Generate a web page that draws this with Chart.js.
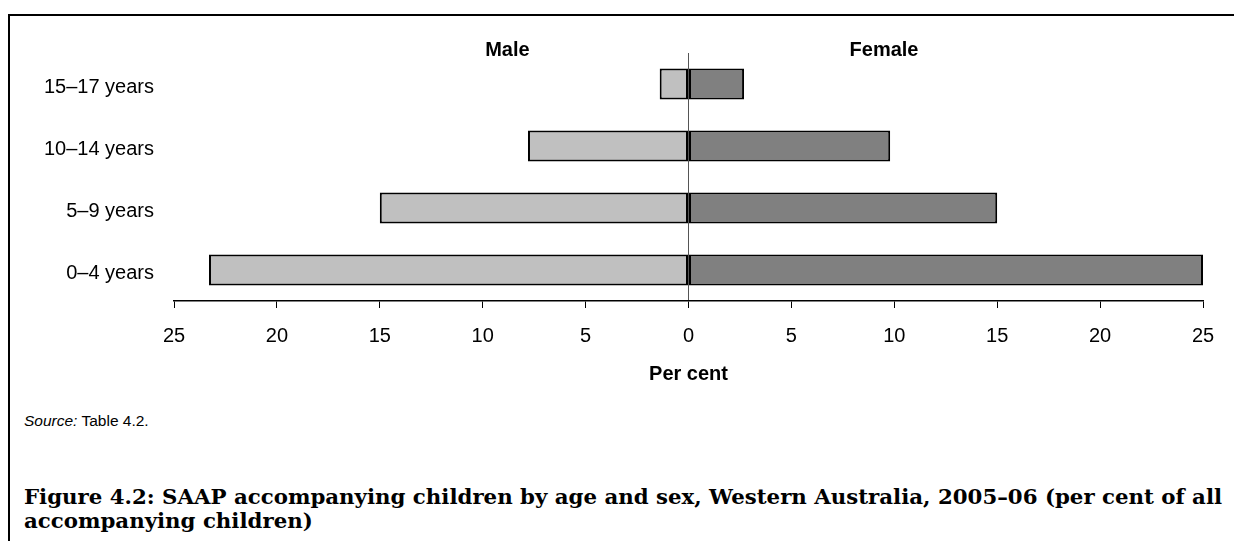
<!DOCTYPE html>
<html>
<head>
<meta charset="utf-8">
<script src="https://cdn.jsdelivr.net/npm/chart.js@4.4.1/dist/chart.umd.min.js"></script>
<style>
  body { margin: 0; background: #fff; width: 1234px; height: 541px; overflow: hidden; position: relative; }
  #frame { position: absolute; left: 8px; top: 14px; width: 1300px; height: 600px; border: 2px solid #000; box-sizing: border-box; }
  #chartBox { position: absolute; left: 0; top: 0; }
  #source { position: absolute; left: 24px; top: 412px; font-family: "Liberation Sans", Arial, sans-serif; font-size: 15.5px; color: #000; }
  #caption { position: absolute; left: 24px; top: 485px; font-family: "DejaVu Serif", serif; font-weight: bold; font-size: 21.3px; line-height: 24px; color: #000; white-space: nowrap; }
</style>
</head>
<body>
<div id="frame"></div>
<div id="chartBox"><canvas id="pyramid" width="1234" height="400"></canvas></div>
<div id="source"><i>Source:</i> Table 4.2.</div>
<div id="caption">Figure 4.2: SAAP accompanying children by age and sex, Western Australia, 2005–06 (per cent of all<br>accompanying children)</div>
<script>
// age groups, top to bottom
var ageGroups = ["15–17 years", "10–14 years", "5–9 years", "0–4 years"];

// per cent of all accompanying children
var male = [1.4, 7.8, 15.0, 23.3];
var female = [2.7, 9.8, 15.0, 25.0];

var xTicks = [-25, -20, -15, -10, -5, 0, 5, 10, 15, 20, 25];

var font = "'Liberation Sans', Arial, sans-serif";

// draws the Male / Female headings above the plot
var sideLabels = {
	id: "sideLabels",
	afterDraw: function (chart) {
		var ctx = chart.ctx;
		var x = chart.scales.x;
		ctx.save();
		ctx.fillStyle = "#000";
		ctx.font = "bold 20px " + font;
		ctx.textAlign = "center";
		ctx.textBaseline = "middle";
		ctx.fillText("Male", x.getPixelForValue(-8.8), 50);
		ctx.fillText("Female", x.getPixelForValue(9.5), 50);
		ctx.restore();
	},
};

var ctx = document.getElementById("pyramid").getContext("2d");

var chart = new Chart(ctx, {
	type: "bar",
	data: {
		labels: ageGroups,
		datasets: [
			{
				label: "Male",
				data: male.map((v) => -v),
				backgroundColor: "#c0c0c0",
				borderColor: "#000",
				borderWidth: 2,
				borderSkipped: false,
			},
			{
				label: "Female",
				data: female,
				backgroundColor: "#808080",
				borderColor: "#000",
				borderWidth: 2,
				borderSkipped: false,
			},
		],
	},
	plugins: [sideLabels],
	options: {
		indexAxis: "y",
		responsive: false,
		animation: false,
		layout: { padding: { top: 53, right: 31, left: 0, bottom: 0 } },
		plugins: {
			legend: { display: false },
			tooltip: { enabled: false },
		},
		datasets: {
			bar: { categoryPercentage: 1, barPercentage: 0.5 },
		},
		scales: {
			x: {
				stacked: true,
				min: -25,
				max: 25,
				afterBuildTicks: function (scale) {
					scale.ticks = xTicks.map((v) => ({ value: v }));
				},
				afterFit: function (scale) {
					scale.height = 99;
				},
				grid: {
					color: (c) => (c.tick && c.tick.value === 0 ? "#555" : "transparent"),
					tickColor: "#000",
					tickLength: 7,
				},
				border: { display: true, color: "#000", width: 1.5 },
				ticks: {
					color: "#000",
					font: { family: font, size: 20 },
					padding: 16,
					maxRotation: 0,
					callback: (v) => Math.abs(v),
				},
				title: {
					display: true,
					text: "Per cent",
					color: "#000",
					font: { family: font, size: 20, weight: "bold" },
					padding: { top: 0, bottom: 14 },
				},
			},
			y: {
				stacked: true,
				afterFit: function (scale) {
					scale.width = 174;
				},
				grid: { display: false, drawTicks: false },
				border: { display: false },
				ticks: {
					color: "#000",
					font: { family: font, size: 20 },
					padding: 20,
					labelOffset: 3,
				},
			},
		},
	},
});
</script>
</body>
</html>
